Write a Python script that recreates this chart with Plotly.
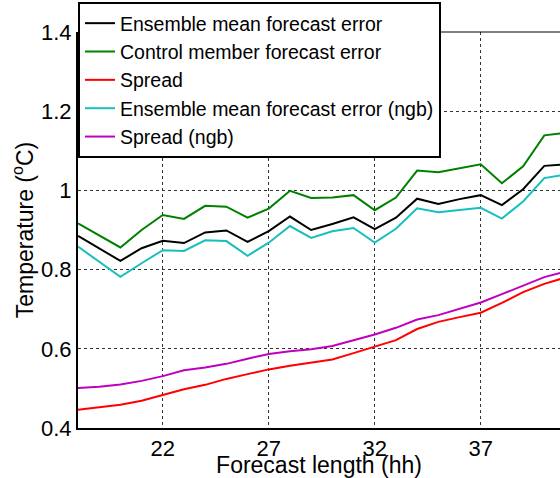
import plotly.graph_objects as go

hours = list(range(18, 42))

ens_mean_err = [0.885, 0.853, 0.822, 0.854, 0.873, 0.867, 0.894, 0.899, 0.870, 0.897,
                0.934, 0.900, 0.915, 0.932, 0.902, 0.931, 0.979, 0.966, 0.978, 0.988,
                0.963, 1.003, 1.062, 1.066]
control_err = [0.917, 0.887, 0.856, 0.900, 0.938, 0.928, 0.961, 0.959, 0.931, 0.954,
               0.999, 0.981, 0.982, 0.988, 0.950, 0.982, 1.050, 1.046, 1.056, 1.066,
               1.018, 1.061, 1.139, 1.145]
spread = [0.446, 0.452, 0.459, 0.469, 0.483, 0.498, 0.509, 0.524, 0.536, 0.548,
          0.557, 0.565, 0.573, 0.589, 0.605, 0.622, 0.650, 0.668, 0.680, 0.691,
          0.716, 0.743, 0.764, 0.780]
ens_mean_err_ngb = [0.858, 0.820, 0.782, 0.816, 0.849, 0.847, 0.874, 0.872, 0.835, 0.868,
                    0.910, 0.880, 0.897, 0.905, 0.868, 0.903, 0.955, 0.945, 0.950, 0.956,
                    0.929, 0.972, 1.031, 1.040]
spread_ngb = [0.501, 0.504, 0.510, 0.519, 0.531, 0.546, 0.553, 0.562, 0.575, 0.587,
              0.594, 0.599, 0.607, 0.622, 0.636, 0.653, 0.674, 0.685, 0.701, 0.717,
              0.738, 0.759, 0.781, 0.795]

x_ticks = [22, 27, 32, 37]
y_ticks = [0.4, 0.6, 0.8, 1.0, 1.2, 1.4]
y_tick_labels = ["0.4", "0.6", "0.8", "1", "1.2", "1.4"]

series = [
    ("Ensemble mean forecast error", ens_mean_err, "#000000"),
    ("Control member forecast error", control_err, "#008000"),
    ("Spread", spread, "#ff0000"),
    ("Ensemble mean forecast error (ngb)", ens_mean_err_ngb, "#17bfbf"),
    ("Spread (ngb)", spread_ngb, "#bf00bf"),
]

FONT = "Liberation Sans, Arial, Helvetica, sans-serif"

fig = go.Figure()
for name, vals, color in series:
    fig.add_trace(go.Scatter(x=hours, y=vals, mode="lines", name=name,
                             line=dict(color=color, width=2)))

fig.update_layout(
    width=560, height=478,
    margin=dict(l=78, r=0, t=32, b=50, autoexpand=False),
    paper_bgcolor="white", plot_bgcolor="white",
    font=dict(family=FONT, color="black", size=22),
    showlegend=True,
    legend=dict(x=0, y=1.0758, xanchor="left", yanchor="top",
                bgcolor="white", bordercolor="black", borderwidth=2,
                font=dict(size=19.5, family=FONT), itemwidth=30,
                tracegroupgap=0),
    shapes=[dict(type="line", xref="paper", yref="paper", x0=0, x1=1, y0=1, y1=1,
                 line=dict(color="black", width=1))],
)

fig.update_xaxes(
    range=[18, 40.74], tickvals=x_ticks, ticktext=[str(v) for v in x_ticks],
    showgrid=True, gridcolor="#333333", griddash="dot", gridwidth=1,
    showline=True, linecolor="black", linewidth=2, mirror=False,
    ticks="", zeroline=False, automargin=False,
    tickfont=dict(size=22),
    title=dict(text="Forecast length (hh)", font=dict(size=23), standoff=5),
)
fig.update_yaxes(
    range=[0.4, 1.4], tickvals=y_ticks, ticktext=y_tick_labels,
    showgrid=True, gridcolor="#333333", griddash="dot", gridwidth=1,
    showline=True, linecolor="black", linewidth=2, mirror=False,
    ticks="", zeroline=False, automargin=False,
    tickfont=dict(size=22),
    title=dict(text="Temperature (<sup>o</sup>C)", font=dict(size=23), standoff=1),
)

fig.write_html("out.html",
               config={"displayModeBar": False},
               post_script="document.body.style.margin='0';document.body.style.overflow='hidden';")
